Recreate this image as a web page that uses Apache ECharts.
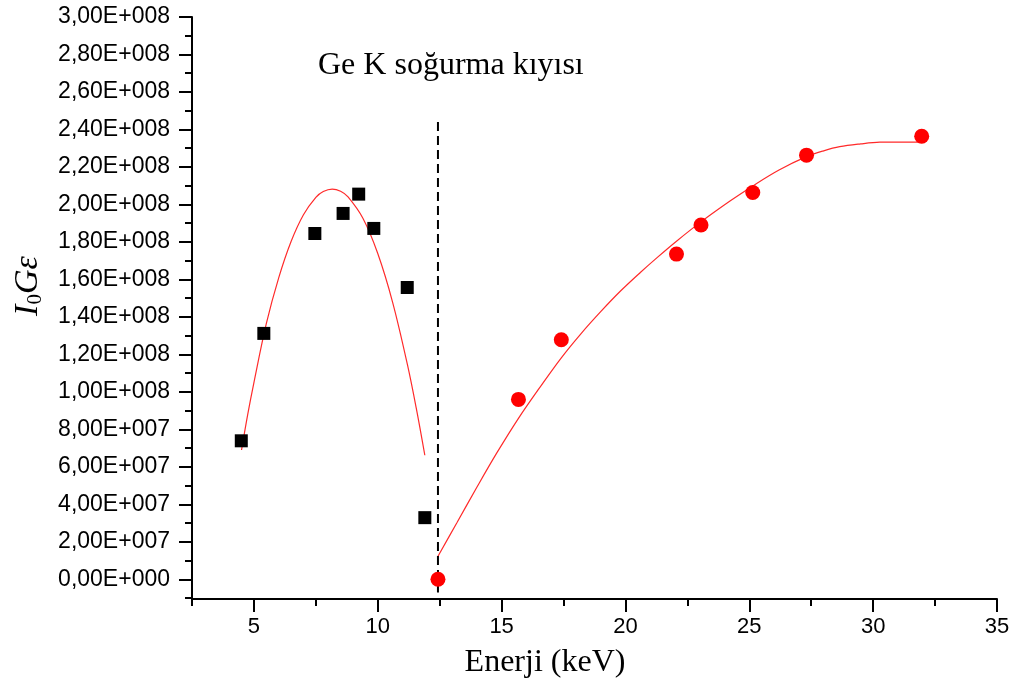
<!DOCTYPE html>
<html>

<head>
    <meta charset="utf-8">
    <title>Ge K</title>
    <style>
        html, body { margin: 0; padding: 0; background: #fff; }
    </style>
</head>

<body>

    <div id="chart" style="width: 1014px;height: 684px;"></div>

    <script src="https://cdn.jsdelivr.net/npm/echarts@6/dist/echarts.min.js"></script>
    <script>
        // ölçüm noktaları (siyah kareler, kıyı altı)
        const squareX = [4.49, 5.40, 7.46, 8.60, 9.23, 9.84, 11.19, 11.90];
        const squareY = [7.39e7, 1.312e8, 1.845e8, 1.952e8, 2.055e8, 1.872e8, 1.557e8, 3.29e7];

        // ölçüm noktaları (kırmızı daireler, kıyı üstü)
        const circleX = [12.43, 15.68, 17.41, 22.06, 23.05, 25.14, 27.31, 31.96];
        const circleY = [0, 9.6e7, 1.278e8, 1.735e8, 1.89e8, 2.064e8, 2.263e8, 2.364e8];

        // fit eğrileri (resimden okunan noktalar)
        const fitLeftX = [4.50, 4.75, 5.0, 5.5, 6.0, 6.5, 7.0, 7.5, 7.8, 8.16, 8.5, 8.8, 9.4, 10.0, 10.6, 11.2, 11.55, 11.9];
        const fitLeftY = [6.9e7, 8.8e7, 1.05e8, 1.364e8, 1.608e8, 1.802e8, 1.945e8, 2.038e8, 2.069e8, 2.082e8, 2.07e8, 2.04e8, 1.926e8, 1.738e8, 1.478e8, 1.144e8, 9.16e7, 6.62e7];
        const fitRightX = [12.42, 13.2, 14.0, 14.8, 15.68, 16.5, 17.41, 18.2, 19.0, 19.8, 20.6, 21.3, 22.06, 23.05, 24.22, 25.14, 26.2, 27.31, 28.0, 28.65, 29.5, 30.27, 31.1, 31.95];
        const fitRightY = [1.205e7, 3.03e7, 4.91e7, 6.73e7, 8.59e7, 1.016e8, 1.182e8, 1.31e8, 1.428e8, 1.538e8, 1.637e8, 1.719e8, 1.804e8, 1.907e8, 2.018e8, 2.099e8, 2.184e8, 2.255e8, 2.286e8, 2.308e8, 2.323e8, 2.332e8, 2.333e8, 2.332e8];

        // soğurma kıyısı (kesikli çizgi)
        const edgeX = [12.43, 12.43];
        const edgeY = [2.44e8, -7e6];

        // eksen değerleri
        const xMajor = [5, 10, 15, 20, 25, 30, 35];
        const xMinor = [2.5, 7.5, 12.5, 17.5, 22.5, 27.5, 32.5];
        const yMajor = [0, 2e7, 4e7, 6e7, 8e7, 1e8, 1.2e8, 1.4e8, 1.6e8, 1.8e8, 2e8, 2.2e8, 2.4e8, 2.6e8, 2.8e8, 3e8];
        const yMinor = [-1e7, 1e7, 3e7, 5e7, 7e7, 9e7, 1.1e8, 1.3e8, 1.5e8, 1.7e8, 1.9e8, 2.1e8, 2.3e8, 2.5e8, 2.7e8, 2.9e8];

        const zip = (xs, ys) => xs.map((x, i) => [x, ys[i]]);

        // 3,00E+008 biçimi
        function sci(v) {
            if (v === 0) return '0,00E+000';
            let e = Math.floor(Math.log10(Math.abs(v)) + 1e-9);
            let m = v / Math.pow(10, e);
            return m.toFixed(2).replace('.', ',') + 'E+' + String(e).padStart(3, '0');
        }

        const chart = echarts.init(document.getElementById('chart'));

        const sans = 'Liberation Sans, Arial, sans-serif';
        const axisBlack = { color: '#000', width: 2 };

        chart.setOption({
            animation: false,
            grid: { left: 192, right: 17, top: 17, bottom: 85 },
            xAxis: [{
                type: 'value', min: 2.5, max: 35, position: 'bottom',
                axisLine: { show: true, onZero: false, lineStyle: axisBlack },
                axisTick: { show: true, length: 13, lineStyle: axisBlack, customValues: xMajor },
                axisLabel: { margin: 17, customValues: xMajor, fontFamily: sans, fontSize: 22, color: '#000' },
                splitLine: { show: false }
            }, {
                type: 'value', min: 2.5, max: 35, position: 'bottom',
                axisLine: { show: false, onZero: false },
                axisTick: { show: true, length: 7, lineStyle: axisBlack, customValues: xMinor },
                axisLabel: { show: false },
                splitLine: { show: false }
            }],
            yAxis: [{
                type: 'value', min: -1.05e7, max: 3e8, position: 'left',
                axisLine: { show: true, onZero: false, lineStyle: axisBlack },
                axisTick: { show: true, length: 13, lineStyle: axisBlack, customValues: yMajor },
                axisLabel: { margin: 22, customValues: yMajor, formatter: sci, fontFamily: sans, fontSize: 23, color: '#000' },
                splitLine: { show: false }
            }, {
                type: 'value', min: -1.05e7, max: 3e8, position: 'left',
                axisLine: { show: false, onZero: false },
                axisTick: { show: true, length: 7, lineStyle: axisBlack, customValues: yMinor },
                axisLabel: { show: false },
                splitLine: { show: false }
            }],
            series: [{
                type: 'line',
                data: zip(fitLeftX, fitLeftY),
                smooth: 0.35,
                showSymbol: false,
                lineStyle: { color: '#ff2a2a', width: 1.2 },
                z: 2
            }, {
                type: 'line',
                data: zip(fitRightX, fitRightY),
                smooth: 0.35,
                showSymbol: false,
                lineStyle: { color: '#ff2a2a', width: 1.2 },
                z: 2
            }, {
                type: 'line',
                data: zip(edgeX, edgeY),
                showSymbol: false,
                lineStyle: { color: '#000', width: 2, type: [9, 5] },
                z: 3
            }, {
                type: 'scatter',
                data: zip(squareX, squareY),
                symbol: 'rect',
                symbolSize: 13,
                itemStyle: { color: '#000', opacity: 1 },
                z: 4
            }, {
                type: 'scatter',
                data: zip(circleX, circleY),
                symbol: 'circle',
                symbolSize: 15,
                itemStyle: { color: '#ff0000', opacity: 1 },
                z: 4
            }],
            graphic: [{
                type: 'text',
                x: 318, y: 50,
                style: {
                    text: 'Ge K soğurma kıyısı',
                    font: '32px "Liberation Serif", "Times New Roman", serif',
                    fill: '#000'
                }
            }, {
                type: 'text',
                x: 545, y: 663,
                style: {
                    text: 'Enerji (keV)',
                    font: '32px "Liberation Serif", "Times New Roman", serif',
                    fill: '#000',
                    align: 'center',
                    verticalAlign: 'middle'
                }
            }, {
                type: 'text',
                x: 28, y: 286,
                rotation: Math.PI / 2,
                style: {
                    text: '{i|I}{s|0}{i|Gε}',
                    align: 'center',
                    verticalAlign: 'middle',
                    fill: '#000',
                    rich: {
                        i: { fontFamily: 'Liberation Serif, serif', fontStyle: 'italic', fontSize: 34, lineHeight: 36, verticalAlign: 'middle' },
                        s: { fontFamily: 'Liberation Serif, serif', fontSize: 21, lineHeight: 36, verticalAlign: 'bottom' }
                    }
                }
            }]
        });
    </script>

</body>

</html>
